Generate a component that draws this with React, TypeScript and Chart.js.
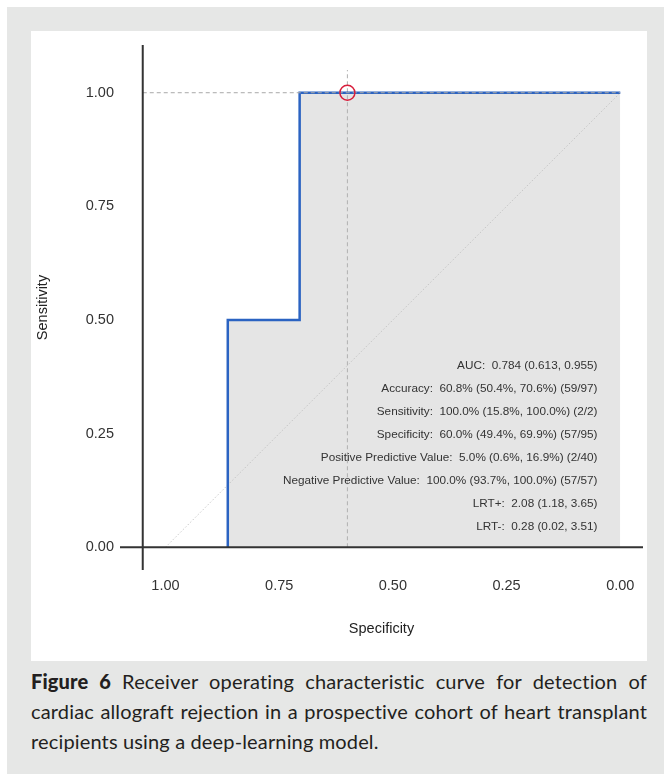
import React, { useEffect, useRef } from 'react';
import { Chart, registerables } from 'chart.js';

Chart.register(...registerables);

// ---- data ----
const xTicks = [1, 0.75, 0.5, 0.25, 0];
const yTicks = [0, 0.25, 0.5, 0.75, 1];
const rocSpecificity = [0.863, 0.863, 0.705, 0.705, 0];
const rocSensitivity = [0, 0.5, 0.5, 1, 1];
const cutoffSpecificity = [0.6];
const cutoffSensitivity = [1.0];
const diagonalSpecificity = [1, 0];
const diagonalSensitivity = [0, 1];
const statLines = [
  'AUC:  0.784 (0.613, 0.955)',
  'Accuracy:  60.8% (50.4%, 70.6%) (59/97)',
  'Sensitivity:  100.0% (15.8%, 100.0%) (2/2)',
  'Specificity:  60.0% (49.4%, 69.9%) (57/95)',
  'Positive Predictive Value:  5.0% (0.6%, 16.9%) (2/40)',
  'Negative Predictive Value:  100.0% (93.7%, 100.0%) (57/57)',
  'LRT+:  2.08 (1.18, 3.65)',
  'LRT-:  0.28 (0.02, 3.51)',
];

// ---- scale limits / layout constants ----
const X_MIN = -0.05;
const X_MAX = 1.1;
const Y_MIN = -0.05;
const Y_MAX = 1.105;
const Y_AXIS_AT = 1.05;
const REF_TOP = 1.05;
const STAT_X = 0.05;
const STAT_Y = 0.4;
const STAT_STEP = 0.0507;

const tickFont = { family: '"Liberation Sans", Arial, sans-serif', size: 14.5 };
const textColor = '#333333';

export default function App() {
  const ref = useRef<HTMLCanvasElement>(null);

  useEffect(() => {
    const canvas = ref.current;
    if (!canvas) return;

    const decor = {
      id: 'rocDecor',
      afterDatasetsDraw(chart: any) {
        const { ctx, chartArea, scales } = chart;
        const xs = scales.x;
        const ys = scales.y;
        ctx.save();
        ctx.strokeStyle = '#333333';
        ctx.lineWidth = 2;
        ctx.setLineDash([]);
        ctx.beginPath();
        const ax = xs.getPixelForValue(Y_AXIS_AT);
        ctx.moveTo(ax, chartArea.top);
        ctx.lineTo(ax, chartArea.bottom);
        const ay = ys.getPixelForValue(0);
        ctx.moveTo(chartArea.left, ay);
        ctx.lineTo(chartArea.right, ay);
        ctx.stroke();

        ctx.font = '11.75px "Liberation Sans", Arial, sans-serif';
        ctx.fillStyle = '#333333';
        ctx.textAlign = 'right';
        ctx.textBaseline = 'middle';
        const tx = xs.getPixelForValue(STAT_X);
        statLines.forEach((s, i) => {
          ctx.fillText(s, tx, ys.getPixelForValue(STAT_Y - i * STAT_STEP));
        });
        ctx.restore();
      },
    };

    const chart = new Chart(canvas, {
      type: 'scatter',
      data: {
        datasets: [
          {
            data: cutoffSpecificity.map((x, i) => ({ x, y: cutoffSensitivity[i] })),
            showLine: false,
            pointRadius: 7.5,
            pointBorderWidth: 1.5,
            pointBorderColor: '#d81e3c',
            pointBackgroundColor: 'rgba(0,0,0,0)',
          },
          {
            data: [
              { x: Y_AXIS_AT, y: cutoffSensitivity[0] },
              { x: 0, y: cutoffSensitivity[0] },
            ],
            showLine: true,
            pointRadius: 0,
            borderColor: '#a8a8a8',
            borderWidth: 1,
            borderDash: [4, 3],
          },
          {
            data: rocSpecificity.map((x, i) => ({ x, y: rocSensitivity[i] })),
            showLine: true,
            pointRadius: 0,
            borderColor: '#2b63c2',
            borderWidth: 2.5,
            fill: 'origin',
            backgroundColor: '#e5e5e5',
          },
          {
            data: [
              { x: cutoffSpecificity[0], y: 0 },
              { x: cutoffSpecificity[0], y: REF_TOP },
            ],
            showLine: true,
            pointRadius: 0,
            borderColor: '#b0b0b0',
            borderWidth: 1,
            borderDash: [4, 3],
          },
          {
            data: diagonalSpecificity.map((x, i) => ({ x, y: diagonalSensitivity[i] })),
            showLine: true,
            pointRadius: 0,
            borderColor: '#bdbdbd',
            borderWidth: 0.8,
            borderDash: [1.5, 2],
          },
        ],
      },
      options: {
        animation: false,
        responsive: false,
        devicePixelRatio: 1,
        layout: { autoPadding: false, padding: { top: 14, right: 4, left: 0, bottom: 0 } },
        plugins: {
          legend: { display: false },
          tooltip: { enabled: false },
          filler: { drawTime: 'beforeDatasetsDraw' },
        },
        scales: {
          x: {
            type: 'linear',
            reverse: true,
            min: X_MIN,
            max: X_MAX,
            grid: { display: false, drawTicks: false },
            border: { display: false },
            afterBuildTicks: (s: any) => {
              s.ticks = xTicks.map((v) => ({ value: v }));
            },
            afterFit: (s: any) => {
              s.height = 91;
              s.paddingLeft = 0;
              s.paddingRight = 0;
              s.paddingTop = 0;
              s.paddingBottom = 0;
            },
            ticks: {
              padding: 7,
              font: tickFont,
              color: textColor,
              maxRotation: 0,
              autoSkip: false,
              callback: (v: any) => Number(v).toFixed(2),
            },
            title: {
              display: true,
              text: 'Specificity',
              font: tickFont,
              color: '#222222',
              padding: { top: 0, bottom: 23 },
            },
          },
          y: {
            type: 'linear',
            min: Y_MIN,
            max: Y_MAX,
            grid: { display: false, drawTicks: false },
            border: { display: false },
            afterBuildTicks: (s: any) => {
              s.ticks = yTicks.map((v) => ({ value: v }));
            },
            afterFit: (s: any) => {
              s.width = 89;
              s.paddingLeft = 0;
              s.paddingRight = 0;
              s.paddingTop = 0;
              s.paddingBottom = 0;
            },
            ticks: {
              padding: 6,
              font: tickFont,
              color: textColor,
              autoSkip: false,
              callback: (v: any) => Number(v).toFixed(2),
            },
            title: {
              display: true,
              text: 'Sensitivity',
              font: tickFont,
              color: '#222222',
              padding: { top: 3, bottom: 0 },
            },
          },
        },
      },
      plugins: [decor],
    });

    return () => chart.destroy();
  }, []);

  return (
    <div
      style={{
        position: 'fixed',
        left: 7,
        top: 7,
        right: 0,
        bottom: 0,
        background: '#e6e7e6',
      }}
    >
      <div style={{ position: 'absolute', left: 24, top: 24, width: 616, height: 630, background: '#ffffff' }}>
        <canvas ref={ref} width={616} height={630} style={{ display: 'block' }} />
      </div>
      <div
        style={{
          position: 'absolute',
          left: 24,
          top: 659,
          width: 616,
          fontFamily: 'Lato, "Open Sans", sans-serif',
          fontSize: 20,
          letterSpacing: '0.15px',
          lineHeight: '30px',
          textAlign: 'justify',
          color: '#231f20',
        }}
      >
        <b style={{ fontWeight: 900 }}>Figure 6</b> Receiver operating characteristic curve for detection of cardiac
        allograft rejection in a prospective cohort of heart transplant recipients using a deep-learning model.
      </div>
    </div>
  );
}
